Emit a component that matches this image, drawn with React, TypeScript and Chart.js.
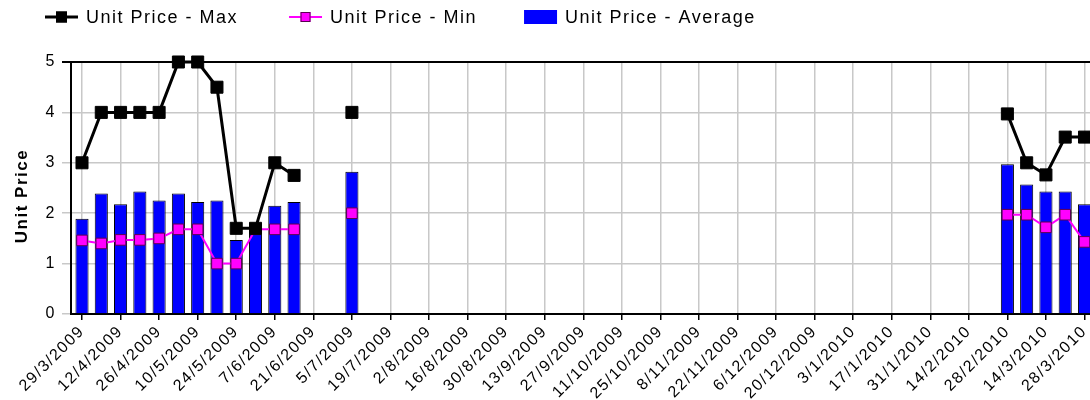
import React, { useEffect, useRef } from 'react';
import { Chart, registerables } from 'chart.js';

Chart.register(...registerables);

// Weekly categories (week starting)
const weekLabels: string[] = [
  '29/3/2009', '5/4/2009', '12/4/2009', '19/4/2009', '26/4/2009', '3/5/2009', '10/5/2009',
  '17/5/2009', '24/5/2009', '31/5/2009', '7/6/2009', '14/6/2009', '21/6/2009', '28/6/2009',
  '5/7/2009', '12/7/2009', '19/7/2009', '26/7/2009', '2/8/2009', '9/8/2009', '16/8/2009',
  '23/8/2009', '30/8/2009', '6/9/2009', '13/9/2009', '20/9/2009', '27/9/2009', '4/10/2009',
  '11/10/2009', '18/10/2009', '25/10/2009', '1/11/2009', '8/11/2009', '15/11/2009', '22/11/2009',
  '29/11/2009', '6/12/2009', '13/12/2009', '20/12/2009', '27/12/2009', '3/1/2010', '10/1/2010',
  '17/1/2010', '24/1/2010', '31/1/2010', '7/2/2010', '14/2/2010', '21/2/2010', '28/2/2010',
  '7/3/2010', '14/3/2010', '21/3/2010', '28/3/2010',
];

const N = null;

const maxPrice: (number | null)[] = [
  3, 4, 4, 4, 4, 5, 5, 4.5, 1.7, 1.7, 3, 2.75, N, N,
  4, N, N, N, N, N, N, N, N, N, N, N, N, N, N, N, N, N, N, N, N, N, N, N, N, N, N, N, N, N, N, N, N, N,
  3.97, 3, 2.76, 3.51, 3.51,
];

const minPrice: (number | null)[] = [
  1.46, 1.4, 1.47, 1.47, 1.5, 1.68, 1.68, 1.0, 1.0, 1.68, 1.68, 1.68, N, N,
  2, N, N, N, N, N, N, N, N, N, N, N, N, N, N, N, N, N, N, N, N, N, N, N, N, N, N, N, N, N, N, N, N, N,
  1.97, 1.97, 1.72, 1.97, 1.43,
];

const avgPrice: (number | null)[] = [
  1.89, 2.39, 2.18, 2.43, 2.25, 2.39, 2.22, 2.25, 1.47, 1.66, 2.15, 2.22, N, N,
  2.82, N, N, N, N, N, N, N, N, N, N, N, N, N, N, N, N, N, N, N, N, N, N, N, N, N, N, N, N, N, N, N, N, N,
  2.97, 2.57, 2.43, 2.43, 2.18,
];

const seriesNames = ['Unit Price - Max', 'Unit Price - Min', 'Unit Price - Average'];
const yAxisTitle = 'Unit Price';
const yMin = 0;
const yMax = 5;

const FONT = '"Liberation Sans", Arial, sans-serif';
const SPACING = '1.5px';

const spacingPlugin = {
  id: 'letterSpacing',
  beforeUpdate(chart: any) { chart.ctx.letterSpacing = SPACING; },
  beforeLayout(chart: any) { chart.ctx.letterSpacing = SPACING; },
  beforeDraw(chart: any) { chart.ctx.letterSpacing = SPACING; },
};

const legendGaps = [51, 47];

const legendPlugin = {
  id: 'lineLegend',
  afterDraw(chart: any) {
    const ctx: CanvasRenderingContext2D = chart.ctx;
    ctx.save();
    (ctx as any).letterSpacing = SPACING;
    ctx.textAlign = 'left';
    ctx.textBaseline = 'middle';

    // y-axis title
    const area = chart.chartArea;
    ctx.save();
    ctx.font = `bold 17px ${FONT}`;
    ctx.translate(22, (area.top + area.bottom) / 2 + 8);
    ctx.rotate(-Math.PI / 2);
    ctx.textAlign = 'center';
    ctx.fillStyle = '#000';
    ctx.fillText(yAxisTitle, 0, 0);
    ctx.restore();

    // legend
    ctx.font = `18px ${FONT}`;
    const y = 17;
    const boxW = 33;
    let x = 45;
    chart.data.datasets.forEach((ds: any, i: number) => {
      if (ds.type === 'bar') {
        ctx.fillStyle = ds.backgroundColor;
        ctx.fillRect(x, y - 7, boxW, 14);
      } else {
        ctx.strokeStyle = ds.borderColor;
        ctx.lineWidth = ds.borderWidth;
        ctx.beginPath();
        ctx.moveTo(x, y);
        ctx.lineTo(x + boxW, y);
        ctx.stroke();
        const s = ds.legendMarker;
        ctx.fillStyle = ds.pointBackgroundColor;
        ctx.fillRect(x + boxW / 2 - s / 2, y - s / 2, s, s);
        ctx.strokeStyle = ds.pointBorderColor;
        ctx.lineWidth = 1;
        ctx.strokeRect(x + boxW / 2 - s / 2 + 0.5, y - s / 2 + 0.5, s - 1, s - 1);
      }
      ctx.fillStyle = '#000';
      ctx.fillText(ds.label, x + boxW + 8, y + 1);
      x += boxW + 8 + ctx.measureText(ds.label).width + (legendGaps[i] ?? 50);
    });
    ctx.restore();
  },
};

export default function App() {
  const ref = useRef<HTMLCanvasElement>(null);

  useEffect(() => {
    if (!ref.current) return;
    Chart.defaults.font.family = FONT;
    Chart.defaults.color = '#000';
    const toPoints = (arr: (number | null)[]) => arr.map((v, i) => ({ x: i, y: v }));
    const tickIdx = weekLabels.map((_, i) => i).filter((i) => i % 2 === 0);

    const chart = new Chart(ref.current, {
      type: 'bar',
      data: {
        datasets: [
          {
            type: 'line',
            label: seriesNames[0],
            data: toPoints(maxPrice) as any,
            borderColor: '#000000',
            borderWidth: 3,
            pointStyle: 'rect',
            pointRadius: 8.5,
            pointBackgroundColor: '#000000',
            pointBorderColor: '#000000',
            pointBorderWidth: 1,
            spanGaps: false,
            tension: 0,
            clip: false as any,
            legendMarker: 11,
          } as any,
          {
            type: 'line',
            label: seriesNames[1],
            data: toPoints(minPrice) as any,
            borderColor: '#ff00ff',
            borderWidth: 2,
            pointStyle: 'rect',
            pointRadius: 7.5,
            pointBackgroundColor: '#ff00ff',
            pointBorderColor: '#5a0050',
            pointBorderWidth: 1,
            spanGaps: false,
            tension: 0,
            clip: false as any,
            legendMarker: 10,
          } as any,
          {
            type: 'bar',
            label: seriesNames[2],
            data: toPoints(avgPrice) as any,
            backgroundColor: '#0000ff',
            borderColor: '#000000',
            borderWidth: 1,
            barPercentage: 0.68,
            categoryPercentage: 1,
          } as any,
        ],
      },
      options: {
        animation: false,
        responsive: false,
        events: [],
        layout: { padding: { top: 62, left: 0, right: 0, bottom: 0 } },
        plugins: {
          legend: { display: false },
          tooltip: { enabled: false },
        },
        scales: {
          x: {
            type: 'linear',
            offset: false,
            min: -0.571,
            max: 52.83,
            afterBuildTicks: (scale: any) => {
              scale.ticks = tickIdx.map((v) => ({ value: v }));
            },
            afterFit: (scale: any) => {
              scale.height = 86;
              scale.paddingLeft = 0;
              scale.paddingRight = 0;
            },
            ticks: {
              autoSkip: false,
              minRotation: 45,
              maxRotation: 45,
              font: { size: 16 },
              color: '#000',
              padding: 2,
              callback: (v: any) => weekLabels[v as number],
            },
            grid: {
              offset: false,
              color: '#c8c8c8',
              lineWidth: 1.5,
              tickColor: '#000',
              tickLength: 6,
            },
            border: { color: '#000', width: 2 },
          },
          y: {
            min: yMin,
            max: yMax,
            afterFit: (scale: any) => {
              scale.width = 71;
            },
            ticks: {
              stepSize: 1,
              font: { size: 16 },
              color: '#000',
              padding: 6,
            },
            grid: {
              color: (c: any) => (c.tick && c.tick.value === yMax ? '#000' : '#c8c8c8'),
              lineWidth: (c: any) => (c.tick && c.tick.value === yMax ? 2 : 1.5),
              tickLength: 9,
            },
            border: { color: '#000', width: 2 },
            title: { display: false },
          },
        },
      } as any,
      plugins: [spacingPlugin, legendPlugin],
    });
    return () => chart.destroy();
  }, []);

  return (
    <div
      style={{
        position: 'fixed',
        left: 0,
        top: 0,
        width: 1090,
        height: 400,
        overflow: 'hidden',
        background: '#fff',
      }}
    >
      <canvas ref={ref} width={1110} height={400} style={{ display: 'block', width: 1110, height: 400 }} />
    </div>
  );
}
